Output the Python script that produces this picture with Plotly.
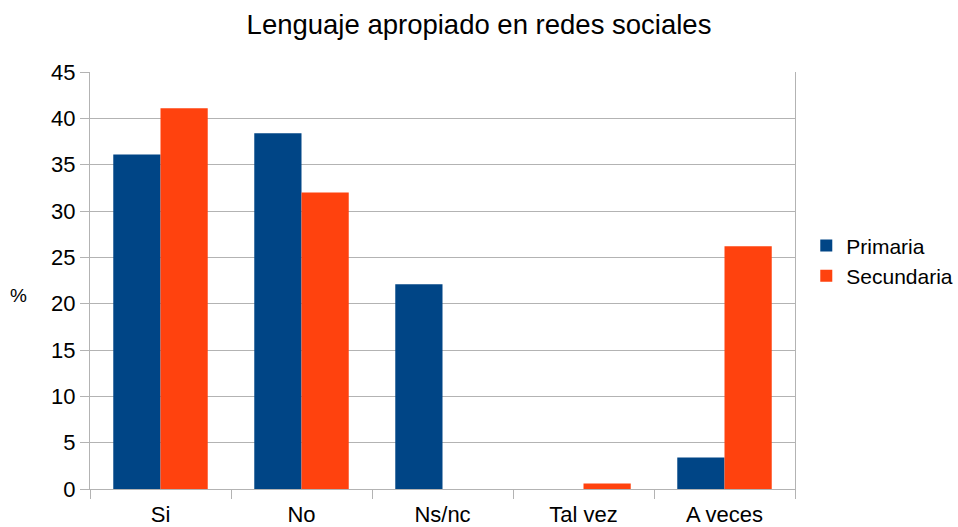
import plotly.graph_objects as go

categories = ["Si", "No", "Ns/nc", "Tal vez", "A veces"]
primaria = [36.1, 38.4, 22.1, 0, 3.4]
secundaria = [41.1, 32.0, 0, 0.6, 26.2]
y_ticks = [0, 5, 10, 15, 20, 25, 30, 35, 40, 45]

font_family = "Liberation Sans, Arial, sans-serif"
grid_color = "#b3b3b3"

fig = go.Figure()
fig.add_trace(go.Bar(name="Primaria", x=categories, y=primaria,
                     marker=dict(color="#004586", line=dict(width=0))))
fig.add_trace(go.Bar(name="Secundaria", x=categories, y=secundaria,
                     marker=dict(color="#ff420e", line=dict(width=0))))

fig.update_layout(
    width=958, height=527,
    margin=dict(l=90, r=163, t=72, b=38, autoexpand=False),
    paper_bgcolor="white", plot_bgcolor="white",
    barmode="group", bargap=0.33, bargroupgap=0,
    font=dict(family=font_family, size=22, color="#000000"),
    title=dict(text="Lenguaje apropiado en redes sociales",
               x=0.5, xanchor="center", y=0.953, yanchor="middle",
               font=dict(size=27.5, family=font_family)),
    legend=dict(x=1.016, y=0.547, xanchor="left", yanchor="middle",
                font=dict(size=21), itemwidth=30, tracegroupgap=4,
                bgcolor="rgba(0,0,0,0)"),
    showlegend=True,
)

fig.update_xaxes(
    showline=True, linecolor=grid_color, linewidth=1, mirror=False,
    ticks="outside", tickson="boundaries", ticklen=9, tickcolor=grid_color,
    showgrid=False, tickfont=dict(size=22), ticklabelstandoff=6,
)
fig.update_yaxes(
    range=[0, 45], tickvals=y_ticks, ticktext=[str(v) for v in y_ticks],
    showline=True, linecolor=grid_color, linewidth=1, mirror=True,
    ticks="outside", ticklen=9, tickcolor=grid_color,
    showgrid=True, gridcolor=grid_color, gridwidth=1,
    zeroline=False, tickfont=dict(size=22),
)

fig.add_annotation(text="%", xref="paper", yref="paper", x=-0.102, y=0.463,
                   xanchor="center", yanchor="middle", showarrow=False,
                   font=dict(size=19, family=font_family))

fig.write_html("out.html")
